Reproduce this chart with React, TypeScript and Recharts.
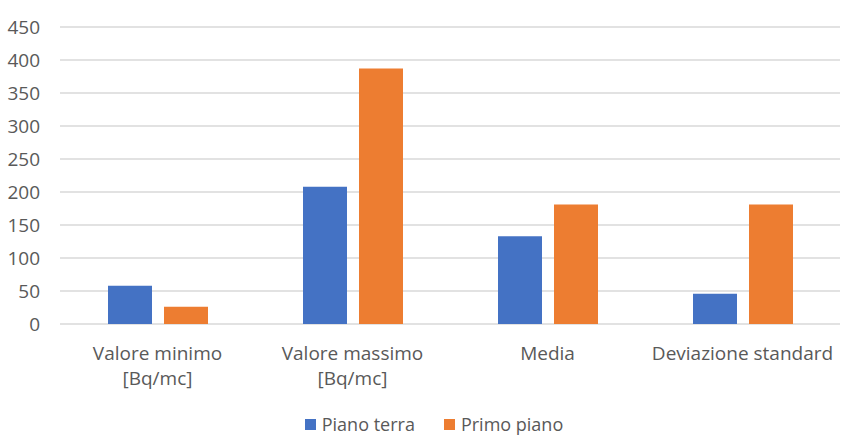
import { Bar, BarChart, CartesianGrid, Legend, XAxis, YAxis } from "recharts";

const categories = ["Valore minimo\n[Bq/mc]", "Valore massimo\n[Bq/mc]", "Media", "Deviazione standard"];
const pianoTerra = [58, 208, 133, 46];
const primoPiano = [26, 387, 181, 181];
const yTicks = [0, 50, 100, 150, 200, 250, 300, 350, 400, 450];

const data = categories.map((name, i) => ({ name, terra: pianoTerra[i], primo: primoPiano[i] }));

const font = "'Open Sans', sans-serif";
const textColor = "#595959";

function CategoryTick(props: any) {
  const { x, y, payload } = props;
  const lines = String(payload.value).split("\n");
  return (
    <text x={x} y={y} textAnchor="middle" fill={textColor} fontSize={19} fontFamily={font}>
      {lines.map((line, i) => (
        <tspan key={i} x={x} dy={i === 0 ? 28 : 25}>
          {line}
        </tspan>
      ))}
    </text>
  );
}

function LegendBox(props: any) {
  const { payload } = props;
  return (
    <div
      style={{
        display: "flex",
        justifyContent: "center",
        gap: 29,
        paddingLeft: 28,
        fontFamily: font,
        fontSize: 18,
        lineHeight: "24px",
        color: textColor,
      }}
    >
      {payload.map((item: any) => (
        <span key={item.value} style={{ display: "flex", alignItems: "center" }}>
          <span style={{ width: 11, height: 11, background: item.color, display: "inline-block", marginRight: 6 }} />
          {item.value}
        </span>
      ))}
    </div>
  );
}

export default function App() {
  return (
    <div style={{ position: "absolute", left: 0, top: 0, width: 843, height: 438, background: "#fff" }}>
      <BarChart width={843} height={438} data={data} margin={{ top: 27, right: 3, left: 0, bottom: 0 }} barGap={12}>
        <CartesianGrid vertical={false} stroke="#d9d9d9" strokeWidth={1.5} />
        <XAxis dataKey="name" axisLine={false} tickLine={false} height={88} interval={0} tick={<CategoryTick />} />
        <YAxis
          domain={[0, 450]}
          ticks={yTicks}
          axisLine={false}
          tickLine={false}
          width={60}
          tickMargin={14}
          tick={{ fill: textColor, fontSize: 19, fontFamily: font }}
        />
        <Legend verticalAlign="bottom" height={26} content={<LegendBox />} />
        <Bar dataKey="terra" name="Piano terra" fill="#4472c4" barSize={44} isAnimationActive={false} />
        <Bar dataKey="primo" name="Primo piano" fill="#ed7d31" barSize={44} isAnimationActive={false} />
      </BarChart>
    </div>
  );
}
